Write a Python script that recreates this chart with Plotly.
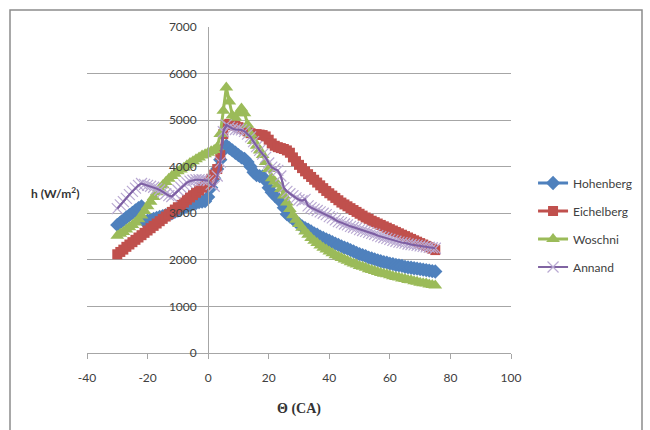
import plotly.graph_objects as go

theta = list(range(-30, 76))

hohenberg = [2750, 2800, 2860, 2910, 2960, 3010, 3060, 3110, 3150, 2820,
             2840, 2860, 2880, 2900, 2920, 2940, 2960, 2980, 3000, 3030,
             3060, 3090, 3120, 3150, 3180, 3200, 3220, 3240, 3250, 3260,
             3350, 3550, 3750, 3950, 4150, 4350, 4450, 4400, 4350, 4300,
             4250, 4200, 4170, 4100, 4000, 3880, 3820, 3800, 3790, 3700,
             3550, 3450, 3380, 3320, 3250, 3120, 2980, 2930, 2880, 2820,
             2770, 2720, 2680, 2650, 2610, 2570, 2540, 2500, 2470, 2440,
             2410, 2380, 2350, 2320, 2290, 2260, 2240, 2210, 2180, 2150,
             2120, 2100, 2080, 2050, 2030, 2010, 1990, 1970, 1950, 1940,
             1920, 1910, 1890, 1880, 1870, 1850, 1840, 1830, 1820, 1810,
             1800, 1790, 1780, 1770, 1760, 1750]

eichelberg = [2120, 2170, 2220, 2280, 2330, 2380, 2430, 2480, 2530, 2580,
              2630, 2680, 2730, 2780, 2830, 2880, 2930, 2980, 3030, 3080,
              3130, 3180, 3230, 3290, 3340, 3390, 3440, 3490, 3550, 3600,
              3660, 3740, 3830, 3950, 4250, 4700, 4900, 4920, 4900, 4880,
              4850, 4820, 4800, 4760, 4720, 4700, 4700, 4690, 4680, 4650,
              4580, 4500, 4450, 4420, 4400, 4380, 4350, 4300, 4200, 4120,
              4040, 3970, 3900, 3840, 3780, 3720, 3660, 3600, 3540, 3480,
              3430, 3380, 3330, 3280, 3230, 3190, 3150, 3110, 3070, 3030,
              2990, 2950, 2910, 2880, 2840, 2810, 2780, 2750, 2720, 2690,
              2660, 2630, 2600, 2570, 2540, 2510, 2480, 2450, 2420, 2390,
              2360, 2330, 2300, 2270, 2240, 2210]

woschni = [2520, 2560, 2600, 2650, 2700, 2750, 2800, 2870, 2950, 3050,
           3150, 3250, 3350, 3450, 3530, 3600, 3670, 3740, 3800, 3850,
           3900, 3940, 3980, 4030, 4080, 4120, 4160, 4200, 4240, 4270,
           4300, 4330, 4360, 4420, 4700, 5200, 5700, 5400, 5100, 5050,
           5150, 5250, 5150, 4900, 4700, 4550, 4450, 4350, 4250, 4100,
           3950, 3750, 3680, 3620, 3520, 3380, 3230, 3090, 2960, 2860,
           2770, 2690, 2610, 2540, 2470, 2410, 2360, 2310, 2260, 2220,
           2180, 2140, 2100, 2070, 2040, 2010, 1980, 1950, 1920, 1900,
           1870, 1850, 1830, 1800, 1780, 1760, 1740, 1720, 1700, 1690,
           1670, 1650, 1630, 1620, 1600, 1590, 1570, 1560, 1540, 1530,
           1510, 1500, 1490, 1470, 1460, 1450]

annand = [3100, 3180, 3250, 3320, 3400, 3470, 3540, 3600, 3640, 3620,
          3600, 3580, 3560, 3530, 3500, 3460, 3420, 3380, 3360, 3420,
          3500, 3560, 3610, 3660, 3690, 3710, 3720, 3720, 3720, 3710,
          3700, 3620, 3580, 3800, 4100, 4750, 4900, 4850, 4820, 4800,
          4800, 4790, 4760, 4700, 4640, 4540, 4430, 4350, 4270, 4200,
          4080, 3990, 3950, 3920, 3800, 3550, 3470, 3420, 3380, 3330,
          3290, 3270, 3300, 3160, 3120, 3090, 3060, 3030, 3000, 2970,
          2930, 2900, 2860, 2820, 2800, 2770, 2750, 2720, 2700, 2680,
          2650, 2630, 2610, 2590, 2570, 2550, 2520, 2500, 2480, 2460,
          2440, 2420, 2400, 2380, 2370, 2360, 2340, 2330, 2320, 2310,
          2300, 2290, 2280, 2270, 2260, 2250]

x_ticks = [-40, -20, 0, 20, 40, 60, 80, 100]
y_ticks = [0, 1000, 2000, 3000, 4000, 5000, 6000, 7000]

font_main = "Lato, Open Sans, sans-serif"
grid = "#A6A6A6"

fig = go.Figure()

fig.add_trace(go.Scatter(
    x=theta, y=hohenberg, name="Hohenberg", mode="lines+markers",
    line=dict(color="#4F81BD", width=3),
    marker=dict(symbol="diamond", size=11, color="#4F81BD"),
    legendgroup="a"))
fig.add_trace(go.Scatter(
    x=theta, y=eichelberg, name="Eichelberg", mode="lines+markers",
    line=dict(color="#C0504D", width=3),
    marker=dict(symbol="square", size=10, color="#C0504D"),
    legendgroup="b"))
fig.add_trace(go.Scatter(
    x=theta, y=woschni, name="Woschni", mode="lines+markers",
    line=dict(color="#9BBB59", width=3),
    marker=dict(symbol="triangle-up", size=12, color="#9BBB59"),
    legendgroup="c"))
fig.add_trace(go.Scatter(
    x=theta, y=annand, name="Annand", mode="lines+markers",
    line=dict(color="#8064A2", width=2),
    marker=dict(symbol="x-thin", size=11, color="#B9A9D2",
                line=dict(color="#B9A9D2", width=1.2)),
    legendgroup="d"))
fig.add_trace(go.Scatter(
    x=theta, y=annand, mode="lines", showlegend=False, hoverinfo="skip",
    line=dict(color="#7D5FA3", width=2), legendgroup="d"))

fig.update_layout(
    width=650, height=430,
    margin=dict(l=87, r=139, t=27, b=77),
    paper_bgcolor="white", plot_bgcolor="white",
    font=dict(family=font_main, size=12, color="#404040"),
    showlegend=True,
    legend=dict(x=1.052, y=0.566, xanchor="left", yanchor="top",
                traceorder="grouped", tracegroupgap=9,
                font=dict(family=font_main, size=12, color="#404040"),
                bgcolor="rgba(0,0,0,0)"),
    xaxis=dict(range=[-40, 100], tickvals=x_ticks, ticktext=[str(v) for v in x_ticks],
               showgrid=False, zeroline=False, showline=True, linecolor=grid, linewidth=1,
               ticks="outside", ticklen=5, tickcolor=grid, ticklabelstandoff=9,
               tickfont=dict(family=font_main, size=12, color="#404040")),
    yaxis=dict(range=[0, 7000], tickvals=y_ticks, ticktext=[str(v) for v in y_ticks],
               anchor="free", position=40 / 140,
               showgrid=True, gridcolor=grid, gridwidth=1,
               zeroline=False, showline=True, linecolor=grid, linewidth=1,
               ticks="", ticklabelstandoff=9,
               tickfont=dict(family=font_main, size=12, color="#404040")),
    annotations=[
        dict(text="<b>Θ (CA)</b>", xref="paper", yref="paper",
             x=0.5, y=(353 - 409) / 326, xanchor="center", yanchor="middle",
             showarrow=False, font=dict(family="Liberation Serif, Times New Roman, serif", size=14, color="#333333")),
        dict(text="<b>h (W/m<sup>2</sup>)</b>", xref="paper", yref="paper",
             x=(55 - 87) / 424, y=(353 - 193) / 326, xanchor="center", yanchor="middle",
             showarrow=False, font=dict(family=font_main, size=12, color="#333333")),
    ],
    shapes=[
        dict(type="rect", xref="paper", yref="paper",
             x0=(10 - 87) / 424, x1=(642 - 87) / 424,
             y0=(353 - 445) / 326, y1=(353 - 10) / 326,
             line=dict(color="#8C8C8C", width=1.5), fillcolor="rgba(0,0,0,0)", layer="below"),
    ],
)

fig.write_html("out.html")
